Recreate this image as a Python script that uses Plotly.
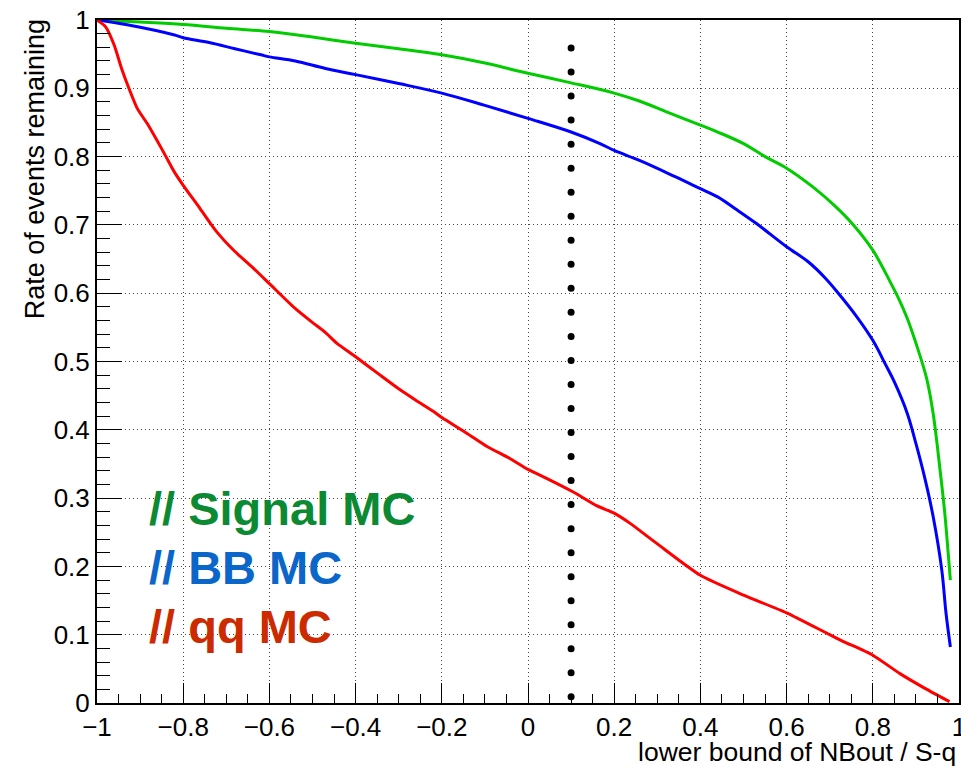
import numpy as np
import plotly.graph_objects as go

# ---- data ----
sig_x = [-1, -0.9, -0.8, -0.7, -0.6, -0.5, -0.4, -0.3, -0.2, -0.1, 0, 0.1, 0.2, 0.26, 0.32,
         0.4, 0.44, 0.5, 0.55, 0.6, 0.66, 0.71, 0.755, 0.8, 0.84, 0.86, 0.88, 0.90, 0.925,
         0.94, 0.957, 0.967, 0.975, 0.98]
sig_y = [1.0, 0.997, 0.9935, 0.988, 0.983, 0.975, 0.966, 0.958, 0.949, 0.937, 0.922, 0.908,
         0.893, 0.881, 0.866, 0.846, 0.836, 0.819, 0.800, 0.783, 0.756, 0.729, 0.700, 0.663,
         0.617, 0.592, 0.563, 0.527, 0.475, 0.424, 0.336, 0.278, 0.219, 0.18]

bb_x = [-1, -0.93, -0.82, -0.8, -0.74, -0.68, -0.62, -0.6, -0.54, -0.47, -0.4, -0.3, -0.2,
        -0.1, 0, 0.1, 0.167, 0.2, 0.26, 0.34, 0.4, 0.44, 0.48, 0.53, 0.6, 0.65, 0.69, 0.72,
        0.76, 0.8, 0.83, 0.85, 0.88, 0.90, 0.92, 0.94, 0.96, 0.97, 0.98]
bb_y = [1.0, 0.993, 0.978, 0.974, 0.967, 0.958, 0.949, 0.946, 0.940, 0.929, 0.92, 0.907,
        0.893, 0.875, 0.856, 0.836, 0.819, 0.809, 0.794, 0.771, 0.753, 0.741, 0.724, 0.702,
        0.668, 0.646, 0.622, 0.6, 0.568, 0.531, 0.495, 0.47, 0.424, 0.38, 0.331, 0.273,
        0.195, 0.131, 0.082]

qq_x = [-1, -0.98, -0.96, -0.943, -0.926, -0.907, -0.881, -0.861, -0.84, -0.821, -0.8,
        -0.761, -0.725, -0.68, -0.641, -0.6, -0.541, -0.502, -0.471, -0.444, -0.4, -0.343,
        -0.3, -0.262, -0.22, -0.2, -0.142, -0.096, -0.042, 0, 0.043, 0.105, 0.159, 0.2,
        0.237, 0.3, 0.4, 0.5, 0.6, 0.7, 0.732, 0.8, 0.863, 0.921, 0.978]
qq_y = [1.0, 0.99, 0.963, 0.929, 0.9, 0.871, 0.846, 0.824, 0.8, 0.778, 0.758, 0.724, 0.692,
        0.661, 0.639, 0.614, 0.578, 0.558, 0.543, 0.527, 0.507, 0.48, 0.46, 0.444, 0.427,
        0.418, 0.395, 0.376, 0.358, 0.342, 0.329, 0.309, 0.289, 0.278, 0.263, 0.233, 0.187,
        0.158, 0.132, 0.10, 0.09, 0.07, 0.043, 0.0215, 0.002]

cut_x = 0.1
cut_y_range = [0.009, 0.959]
cut_dots = 28

labels = ["// Signal MC", "// BB MC", "// qq MC"]
label_y = [0.285, 0.198, 0.112]
label_colors = ["#0b8a33", "#0a66c8", "#cc2a00"]

FONT = "Liberation Sans, Arial, Helvetica, sans-serif"

fig = go.Figure()
fig.add_trace(go.Scatter(x=sig_x, y=sig_y, mode="lines", line=dict(color="#00cc00", width=3),
                         line_shape="spline", showlegend=False))
fig.add_trace(go.Scatter(x=bb_x, y=bb_y, mode="lines", line=dict(color="#0000ff", width=3),
                         line_shape="spline", showlegend=False))
fig.add_trace(go.Scatter(x=qq_x, y=qq_y, mode="lines",
                         line=dict(color="#ff0000", width=3, shape="spline", smoothing=0.6),
                         showlegend=False))

# dotted cut line (round dots)
dot_y = np.linspace(cut_y_range[0], cut_y_range[1], cut_dots)
fig.add_trace(go.Scatter(x=[cut_x] * cut_dots, y=dot_y, mode="markers",
                         marker=dict(color="black", size=7), showlegend=False))

for t, yy, c in zip(labels, label_y, label_colors):
    fig.add_annotation(x=-0.884, y=yy, xref="x", yref="y", text="<b>" + t + "</b>",
                       showarrow=False, xanchor="left", yanchor="middle",
                       font=dict(family=FONT, size=47, color=c))

fig.add_annotation(x=0.999, y=-0.072, xref="paper", yref="paper",
                   text="lower bound of NBout / S-q", showarrow=False,
                   xanchor="right", yanchor="middle",
                   font=dict(family=FONT, size=26.5, color="black"))
fig.add_annotation(x=-0.072, y=1.004, xref="paper", yref="paper",
                   text="Rate of events remaining", showarrow=False, textangle=-90,
                   xanchor="center", yanchor="top",
                   font=dict(family=FONT, size=27, color="black"))

axis_common = dict(showline=True, linewidth=2, linecolor="black", mirror=True,
                   ticks="inside", tickwidth=1, tickcolor="black", showgrid=True,
                   gridcolor="#444", gridwidth=1, griddash="1px,3px", zeroline=False,
                   automargin=False,
                   tickfont=dict(family=FONT, size=26, color="black"))

fig.update_xaxes(range=[-1, 1], dtick=0.2, tick0=-1, ticklen=20,
                 ticklabeloverflow="allow",
                 minor=dict(dtick=0.05, ticks="inside", ticklen=9, tickcolor="black",
                            showgrid=False),
                 **axis_common)
fig.update_yaxes(range=[0, 1], dtick=0.1, tick0=0, ticklen=25,
                 minor=dict(dtick=0.02, ticks="inside", ticklen=13, tickcolor="black",
                            showgrid=False),
                 **axis_common)

fig.update_layout(width=961, height=766, margin=dict(l=97, r=2, t=20, b=63),
                  plot_bgcolor="white", paper_bgcolor="white",
                  font=dict(family=FONT, color="black"))

fig.write_html("out.html")
